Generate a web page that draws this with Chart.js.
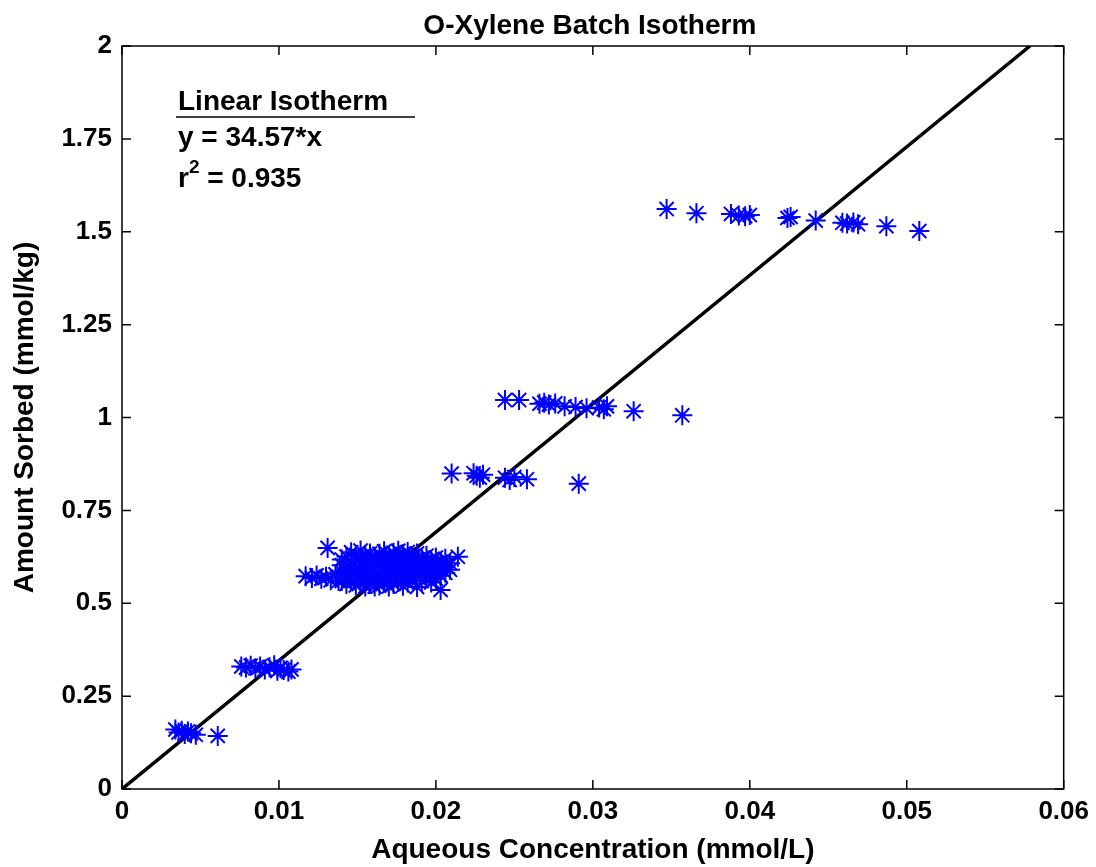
<!DOCTYPE html>
<html>
<head>
<meta charset="utf-8">
<script src="https://cdn.jsdelivr.net/npm/chart.js@4.4.0/dist/chart.umd.min.js"></script>
<style>
  html, body { margin: 0; padding: 0; background: #fff; }
  #wrap { width: 1096px; height: 867px; }
</style>
</head>
<body>
<div id="wrap"><canvas id="chart" width="1096" height="867"></canvas></div>
<script>
// [aqueous concentration (mmol/L), amount sorbed (mmol/kg)]
const batch015 = [
  [0.0034, 0.160], [0.0036, 0.152], [0.0038, 0.157], [0.0040, 0.148],
  [0.0042, 0.155], [0.0044, 0.150], [0.0047, 0.146], [0.0061, 0.143]
];
const batch033 = [
  [0.0076, 0.330], [0.0079, 0.327], [0.0082, 0.332], [0.0085, 0.325],
  [0.0088, 0.330], [0.0091, 0.322], [0.0094, 0.328], [0.0097, 0.333],
  [0.0099, 0.318], [0.0101, 0.326], [0.0103, 0.320], [0.0106, 0.316],
  [0.0108, 0.322]
];
const batch060 = [
  [0.0117, 0.573], [0.0121, 0.568], [0.0124, 0.575], [0.0127, 0.566],
  [0.0130, 0.571], [0.0133, 0.562], [0.0131, 0.649], [0.0136, 0.578], [0.0138, 0.560],
  [0.0140, 0.585], [0.0140, 0.602], [0.0140, 0.560], [0.0140, 0.618],
  [0.0143, 0.593], [0.0143, 0.571], [0.0143, 0.626], [0.0143, 0.552],
  [0.0146, 0.608], [0.0146, 0.580], [0.0146, 0.637], [0.0146, 0.561], [0.0146, 0.595],
  [0.0149, 0.615], [0.0149, 0.590], [0.0149, 0.548], [0.0149, 0.570], [0.0149, 0.630],
  [0.0152, 0.600], [0.0152, 0.577], [0.0152, 0.622], [0.0152, 0.556], [0.0152, 0.642],
  [0.0155, 0.611], [0.0155, 0.586], [0.0155, 0.565], [0.0155, 0.628], [0.0155, 0.545],
  [0.0158, 0.597], [0.0158, 0.619], [0.0158, 0.573], [0.0158, 0.552], [0.0158, 0.634],
  [0.0161, 0.604], [0.0161, 0.582], [0.0161, 0.625], [0.0161, 0.560], [0.0161, 0.545],
  [0.0164, 0.613], [0.0164, 0.590], [0.0164, 0.570], [0.0164, 0.633], [0.0164, 0.548],
  [0.0167, 0.600], [0.0167, 0.622], [0.0167, 0.578], [0.0167, 0.555], [0.0167, 0.640],
  [0.0170, 0.608], [0.0170, 0.587], [0.0170, 0.565], [0.0170, 0.628], [0.0170, 0.545],
  [0.0173, 0.616], [0.0173, 0.595], [0.0173, 0.573], [0.0173, 0.636], [0.0173, 0.552],
  [0.0176, 0.603], [0.0176, 0.624], [0.0176, 0.581], [0.0176, 0.558], [0.0176, 0.641],
  [0.0179, 0.611], [0.0179, 0.590], [0.0179, 0.568], [0.0179, 0.632], [0.0179, 0.547],
  [0.0182, 0.598], [0.0182, 0.620], [0.0182, 0.577], [0.0182, 0.556], [0.0182, 0.638],
  [0.0185, 0.606], [0.0185, 0.585], [0.0185, 0.627], [0.0185, 0.563],
  [0.0188, 0.613], [0.0188, 0.592], [0.0188, 0.571], [0.0188, 0.544], [0.0188, 0.634],
  [0.0191, 0.600], [0.0191, 0.622], [0.0191, 0.580], [0.0191, 0.560],
  [0.0194, 0.609], [0.0194, 0.588], [0.0194, 0.628], [0.0194, 0.567],
  [0.0197, 0.596], [0.0197, 0.617], [0.0197, 0.575], [0.0197, 0.556],
  [0.0200, 0.604], [0.0200, 0.585], [0.0200, 0.623], [0.0200, 0.566],
  [0.0203, 0.593], [0.0203, 0.612], [0.0203, 0.574], [0.0203, 0.536],
  [0.0206, 0.600], [0.0206, 0.582], [0.0206, 0.620],
  [0.0209, 0.590], [0.0209, 0.608], [0.0214, 0.625]
];
const batch085 = [
  [0.0210, 0.849], [0.0224, 0.850], [0.0226, 0.843], [0.0228, 0.838],
  [0.0230, 0.846], [0.0244, 0.838], [0.0247, 0.832], [0.0250, 0.840],
  [0.0258, 0.834], [0.0291, 0.822]
];
const batch103 = [
  [0.0244, 1.047], [0.0253, 1.047], [0.0266, 1.037], [0.0269, 1.040],
  [0.0272, 1.035], [0.0276, 1.038], [0.0282, 1.030], [0.0289, 1.028],
  [0.0296, 1.025], [0.0304, 1.027], [0.0307, 1.022], [0.0309, 1.030],
  [0.0326, 1.017], [0.0357, 1.006]
];
const batch153 = [
  [0.0347, 1.561], [0.0366, 1.550], [0.0388, 1.548], [0.0393, 1.544],
  [0.0397, 1.542], [0.0400, 1.545], [0.0424, 1.537], [0.0426, 1.540],
  [0.0442, 1.530], [0.0459, 1.524], [0.0462, 1.522], [0.0466, 1.525],
  [0.0469, 1.520], [0.0487, 1.515], [0.0508, 1.502]
];

const slope = 34.57;
const rSquared = 0.935;
const xTicks = [0, 0.01, 0.02, 0.03, 0.04, 0.05, 0.06];
const yTicks = [0, 0.25, 0.5, 0.75, 1, 1.25, 1.5, 1.75, 2];

const FONT = '"Liberation Sans", Arial, sans-serif';

const allPoints = [].concat(batch015, batch033, batch060, batch085, batch103, batch153)
  .map(p => ({ x: p[0], y: p[1] }));
const yMax = yTicks[yTicks.length - 1];
const fitLine = [{ x: 0, y: 0 }, { x: yMax / slope, y: yMax }];

// matlab style box with inward ticks, title and fit text
const boxPlugin = {
  id: 'box',
  afterDraw(chart) {
    const ctx = chart.ctx;
    const a = chart.chartArea;
    const xs = chart.scales.x, ys = chart.scales.y;
    const tl = 9;
    ctx.save();
    ctx.strokeStyle = '#000';
    ctx.lineWidth = 1.5;
    ctx.strokeRect(a.left, a.top, a.right - a.left, a.bottom - a.top);
    ctx.beginPath();
    xTicks.forEach(v => {
      const px = xs.getPixelForValue(v);
      ctx.moveTo(px, a.bottom); ctx.lineTo(px, a.bottom - tl);
      ctx.moveTo(px, a.top); ctx.lineTo(px, a.top + tl);
    });
    yTicks.forEach(v => {
      const py = ys.getPixelForValue(v);
      ctx.moveTo(a.left, py); ctx.lineTo(a.left + tl, py);
      ctx.moveTo(a.right, py); ctx.lineTo(a.right - tl, py);
    });
    ctx.stroke();

    ctx.fillStyle = '#000';
    ctx.textBaseline = 'alphabetic';
    ctx.textAlign = 'center';
    ctx.font = 'bold 28px ' + FONT;
    ctx.fillText('O-Xylene Batch Isotherm', (a.left + a.right) / 2 - 3, 34);

    ctx.textAlign = 'left';
    const tx = a.left + 56;
    ctx.fillText('Linear Isotherm', tx, a.top + 64);
    ctx.beginPath();
    ctx.lineWidth = 1.5;
    ctx.moveTo(tx - 2, a.top + 71);
    ctx.lineTo(a.left + 293, a.top + 71);
    ctx.stroke();
    ctx.fillText('y = ' + slope.toFixed(2) + '*x', tx, a.top + 100);
    ctx.fillText('r', tx, a.top + 141);
    const rw = ctx.measureText('r').width;
    ctx.font = 'bold 19px ' + FONT;
    ctx.fillText('2', tx + rw, a.top + 127);
    const sw = ctx.measureText('2').width;
    ctx.font = 'bold 28px ' + FONT;
    ctx.fillText(' = ' + rSquared.toFixed(3), tx + rw + sw, a.top + 141);
    ctx.restore();
  }
};

const tickFont = { family: FONT, size: 26, weight: 'bold' };
const labelFont = { family: FONT, size: 28, weight: 'bold' };

new Chart(document.getElementById('chart'), {
  type: 'scatter',
  data: {
    datasets: [
      {
        label: 'data',
        data: allPoints,
        pointStyle: 'star',
        pointRadius: 10,
        pointHoverRadius: 10,
        borderColor: '#0000ff',
        backgroundColor: '#0000ff',
        pointBorderWidth: 2,
        showLine: false
      },
      {
        label: 'fit',
        type: 'line',
        data: fitLine,
        borderColor: '#000',
        borderWidth: 3.5,
        pointRadius: 0,
        fill: false
      }
    ]
  },
  options: {
    responsive: false,
    animation: false,
    devicePixelRatio: 1,
    layout: { padding: { left: 0, right: 32, top: 46, bottom: 0 } },
    plugins: {
      legend: { display: false },
      title: { display: false },
      tooltip: { enabled: false }
    },
    scales: {
      x: {
        type: 'linear',
        min: 0,
        max: 0.06,
        afterBuildTicks: s => { s.ticks = xTicks.map(v => ({ value: v })); },
        afterFit: s => { s.height = 78; },
        grid: { display: false, drawTicks: false },
        border: { display: false },
        ticks: {
          color: '#000',
          font: tickFont,
          padding: 7,
          maxRotation: 0,
          callback: v => String(v)
        },
        title: {
          display: true,
          text: 'Aqueous Concentration (mmol/L)',
          color: '#000',
          font: labelFont,
          padding: { top: 0, bottom: 0 }
        }
      },
      y: {
        type: 'linear',
        min: 0,
        max: 2,
        afterBuildTicks: s => { s.ticks = yTicks.map(v => ({ value: v })); },
        afterFit: s => { s.width = 122; },
        grid: { display: false, drawTicks: false },
        border: { display: false },
        ticks: {
          color: '#000',
          font: tickFont,
          padding: 10,
          callback: v => String(v)
        },
        title: {
          display: true,
          text: 'Amount Sorbed (mmol/kg)',
          color: '#000',
          font: labelFont,
          padding: { top: 8, bottom: 0 }
        }
      }
    }
  },
  plugins: [boxPlugin]
});
</script>
</body>
</html>
